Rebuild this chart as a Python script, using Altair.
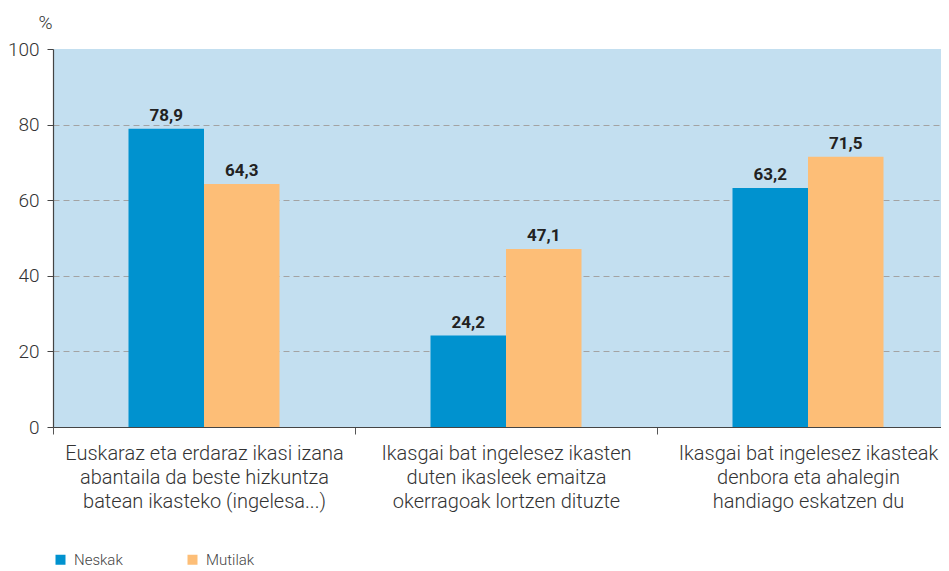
import altair as alt
import pandas as pd

categories = [
    "Euskaraz eta erdaraz ikasi izana\nabantaila da beste hizkuntza\nbatean ikasteko (ingelesa...)",
    "Ikasgai bat ingelesez ikasten\nduten ikasleek emaitza\nokerragoak lortzen dituzte",
    "Ikasgai bat ingelesez ikasteak\ndenbora eta ahalegin\nhandiago eskatzen du",
]
series = ["Neskak", "Mutilak"]
neskak = [78.9, 24.2, 63.2]
mutilak = [64.3, 47.1, 71.5]
colors = ["#0092cf", "#fdbe77"]

rows = []
for c, n, m in zip(categories, neskak, mutilak):
    rows.append({"cat": c, "sex": "Neskak", "v": n})
    rows.append({"cat": c, "sex": "Mutilak", "v": m})
df = pd.DataFrame(rows)

FONT = "Roboto"

x = alt.X("cat:N", sort=categories, title=None,
          scale=alt.Scale(range=[0, 906], paddingInner=0, paddingOuter=0),
          axis=alt.Axis(labelExpr="split(datum.label, '\\n')", labelAngle=0,
                        labelFontSize=20, labelLineHeight=24, labelColor="#333",
                        labelFont=FONT, labelFontWeight=300, labelPadding=9,
                        labelBaseline="top",
                        tickBand="extent", tickSize=7, tickColor="#555",
                        domainColor="#444", domainWidth=1.2, labelLimit=400))
xo = alt.XOffset("sex:N", sort=series,
                 scale=alt.Scale(paddingInner=0, paddingOuter=1))
y = alt.Y("v:Q", title="%",
          scale=alt.Scale(domain=[0, 100], nice=False),
          axis=alt.Axis(values=[0, 20, 40, 60, 80, 100], labelFontSize=19,
                        labelColor="#333", labelFont=FONT, labelFontWeight=300,
                        labelPadding=8,
                        tickSize=6, tickColor="#444", domainColor="#444",
                        domainWidth=1.2, titleAngle=0, titleX=-8, titleY=-27,
                        titleAlign="center", titleBaseline="middle",
                        titleFont=FONT, titleFontSize=19, titleFontWeight=300,
                        titleColor="#333",
                        grid=True, gridDash=[6, 4],
                        gridColor={"condition": {"test": "datum.value == 0 || datum.value == 100", "value": "transparent"}, "value": "#a3a3a3"}))

bars = alt.Chart(df).mark_bar().encode(
    x=x, xOffset=xo, y=y,
    color=alt.Color("sex:N", sort=series,
                    scale=alt.Scale(domain=series, range=colors),
                    legend=alt.Legend(title=None, orient="none", legendX=0, legendY=503,
                                      direction="horizontal", columns=2,
                                      columnPadding=62, symbolType="square",
                                      symbolSize=100, symbolStrokeWidth=0,
                                      labelFontSize=15, labelFont=FONT,
                                      labelFontWeight=300,
                                      labelColor="#444", labelOffset=6, padding=0)),
)

labels = alt.Chart(df).transform_calculate(
    lab="replace(format(datum.v, '.1f'), '.', ',')"
).mark_text(font=FONT, fontSize=17, fontWeight="bold", color="#222",
            baseline="alphabetic", dy=-8).encode(
    x=alt.X("cat:N", sort=categories, title=None),
    xOffset=alt.XOffset("sex:N", sort=series),
    y=alt.Y("v:Q"),
    text="lab:N",
)

chart = alt.layer(bars, labels).properties(
    width=888, height=378,
    autosize=alt.AutoSizeParams(type="none"),
    padding={"left": 45, "top": 41, "right": 0, "bottom": 150},
    view=alt.ViewBackground(fill="#c3dff0", strokeWidth=0),
).configure_view(fill="#c3dff0", strokeWidth=0).configure(font=FONT)

chart.save("out.html", embed_options={"renderer": "svg", "actions": False})
